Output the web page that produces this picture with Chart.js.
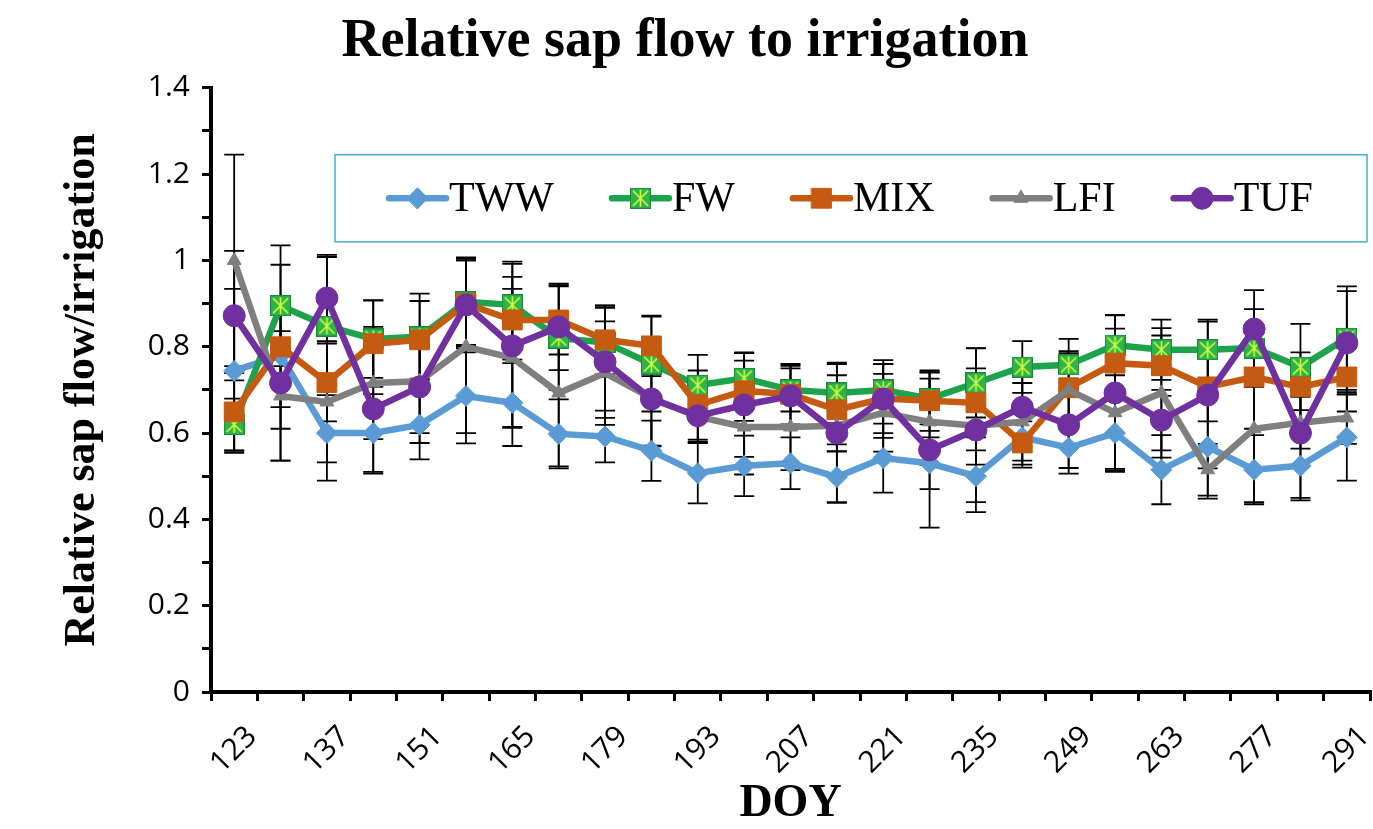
<!DOCTYPE html>
<html>
<head>
    <title>Relative sap flow to irrigation</title>
    <script src="https://cdn.jsdelivr.net/npm/chart.js"></script>
    <style>
        body { margin: 0; background: #fff; }
        canvas { display: block; }
    </style>
</head>
<body>
    <canvas id="sapChart" width="1373" height="829"></canvas>
    <script>
        // DOY categories (weekly)
        var doy = ['123', '130', '137', '144', '151', '158', '165', '172', '179', '186', '193', '200', '207',
                   '214', '221', '228', '235', '242', '249', '256', '263', '270', '277', '284', '291'];

        var seriesNames = ['TWW', 'FW', 'MIX', 'LFI', 'TUF'];

        var tww = [0.744, 0.78, 0.60, 0.60, 0.619, 0.686, 0.67, 0.598, 0.592, 0.559, 0.507, 0.524, 0.53,
                   0.498, 0.542, 0.53, 0.50, 0.59, 0.566, 0.60, 0.515, 0.568, 0.515, 0.524, 0.59];
        var fw  = [0.62, 0.895, 0.848, 0.818, 0.823, 0.904, 0.897, 0.82, 0.81, 0.76, 0.711, 0.727, 0.70,
                   0.693, 0.70, 0.68, 0.716, 0.753, 0.758, 0.804, 0.793, 0.793, 0.797, 0.753, 0.82];
        var mix = [0.649, 0.80, 0.717, 0.807, 0.816, 0.90, 0.862, 0.862, 0.816, 0.802, 0.665, 0.698, 0.69,
                   0.654, 0.68, 0.675, 0.67, 0.577, 0.705, 0.762, 0.756, 0.707, 0.73, 0.707, 0.73];
        var lfi = [1.0, 0.686, 0.672, 0.716, 0.72, 0.80, 0.774, 0.693, 0.739, 0.681, 0.638, 0.614, 0.614,
                   0.617, 0.647, 0.626, 0.617, 0.626, 0.70, 0.647, 0.693, 0.515, 0.61, 0.624, 0.635];
        var tuf = [0.872, 0.716, 0.913, 0.656, 0.707, 0.897, 0.802, 0.846, 0.765, 0.679, 0.64, 0.665, 0.686,
                   0.60, 0.679, 0.561, 0.607, 0.66, 0.619, 0.693, 0.63, 0.688, 0.841, 0.60, 0.809];

        // standard errors (+/-)
        var twwErr = [0.19, 0.12, 0.11, 0.09, 0.08, 0.11, 0.10, 0.08, 0.06, 0.07, 0.07, 0.07, 0.06,
                      0.06, 0.08, 0.06, 0.06, 0.07, 0.06, 0.09, 0.08, 0.12, 0.08, 0.08, 0.10];
        var fwErr  = [0.06, 0.14, 0.16, 0.09, 0.10, 0.10, 0.10, 0.12, 0.08, 0.11, 0.07, 0.06, 0.05,
                      0.07, 0.06, 0.06, 0.08, 0.06, 0.06, 0.07, 0.07, 0.07, 0.09, 0.10, 0.12];
        var mixErr = [0.09, 0.19, 0.09, 0.10, 0.09, 0.10, 0.10, 0.08, 0.08, 0.07, 0.08, 0.07, 0.07,
                      0.08, 0.08, 0.07, 0.08, 0.05, 0.08, 0.08, 0.07, 0.08, 0.12, 0.08, 0.08];
        var lfiErr = [0.245, 0.15, 0.14, 0.13, 0.12, 0.20, 0.16, 0.17, 0.12, 0.11, 0.06, 0.11, 0.10,
                      0.06, 0.09, 0.10, 0.09, 0.09, 0.09, 0.13, 0.15, 0.06, 0.17, 0.06, 0.06];
        var tufErr = [0.15, 0.18, 0.10, 0.15, 0.13, 0.11, 0.19, 0.10, 0.13, 0.11, 0.06, 0.12, 0.07,
                      0.16, 0.09, 0.18, 0.19, 0.07, 0.10, 0.18, 0.07, 0.17, 0.09, 0.15, 0.12];

        var yTicksShown = [0, 0.2, 0.4, 0.6, 0.8, 1, 1.2, 1.4];

        // FW marker: green square with a lime asterisk
        var fwMarker = document.createElement('canvas');
        fwMarker.width = 21; fwMarker.height = 21;
        (function() {
            var c = fwMarker.getContext('2d');
            c.fillStyle = '#2fb34a';
            c.fillRect(0, 0, 21, 21);
            c.strokeStyle = '#1a8a3a';
            c.lineWidth = 1;
            c.strokeRect(0.5, 0.5, 20, 20);
            c.strokeStyle = '#d4ff3a';
            c.lineWidth = 1.6;
            c.beginPath();
            c.moveTo(3, 3); c.lineTo(18, 18);
            c.moveTo(18, 3); c.lineTo(3, 18);
            c.moveTo(10.5, 2); c.lineTo(10.5, 19);
            c.stroke();
        })();

        var errSets = [twwErr, fwErr, mixErr, lfiErr, tufErr];

        // error bars drawn under the lines
        var errorBars = {
            id: 'errorBars',
            beforeDatasetsDraw: function(chart) {
                var ctx = chart.ctx;
                var yScale = chart.scales.y;
                ctx.save();
                ctx.strokeStyle = '#000';
                ctx.lineWidth = 1.8;
                chart.data.datasets.forEach(function(ds, i) {
                    var meta = chart.getDatasetMeta(i);
                    meta.data.forEach(function(pt, j) {
                        var v = ds.data[j], e = errSets[i][j];
                        var top = yScale.getPixelForValue(v + e);
                        var bot = yScale.getPixelForValue(v - e);
                        ctx.beginPath();
                        ctx.moveTo(pt.x, top); ctx.lineTo(pt.x, bot);
                        ctx.moveTo(pt.x - 10, top); ctx.lineTo(pt.x + 10, top);
                        ctx.moveTo(pt.x - 10, bot); ctx.lineTo(pt.x + 10, bot);
                        ctx.stroke();
                    });
                });
                ctx.restore();
            }
        };

        // boxed legend inside the plot area
        var legendBox = {
            id: 'legendBox',
            afterDatasetsDraw: function(chart) {
                var ctx = chart.ctx;
                var area = chart.chartArea;
                var x0 = area.left + 124, x1 = area.right - 3;
                var y0 = area.top + 67, y1 = y0 + 87;
                ctx.save();
                ctx.fillStyle = '#fff';
                ctx.fillRect(x0, y0, x1 - x0, y1 - y0);
                ctx.strokeStyle = '#4bacc6';
                ctx.lineWidth = 1.5;
                ctx.strokeRect(x0, y0, x1 - x0, y1 - y0);

                ctx.font = '42px "Liberation Serif"';
                var lineLen = 57, textGap = 3, itemGap = 58;
                var dsets = chart.data.datasets;
                var total = 0;
                dsets.forEach(function(ds, i) {
                    total += lineLen + textGap + ctx.measureText(ds.label).width;
                    if (i < dsets.length - 1) total += itemGap;
                });
                var x = (x0 + x1) / 2 - total / 2;
                var y = (y0 + y1) / 2;
                dsets.forEach(function(ds) {
                    ctx.strokeStyle = ds.borderColor;
                    ctx.lineWidth = ds.borderWidth;
                    ctx.lineCap = 'round';
                    ctx.beginPath();
                    ctx.moveTo(x, y); ctx.lineTo(x + lineLen, y);
                    ctx.stroke();
                    ctx.fillStyle = ds.pointBackgroundColor;
                    ctx.strokeStyle = ds.pointBorderColor;
                    ctx.lineWidth = 1;
                    Chart.helpers.drawPoint(ctx, {
                        pointStyle: ds.pointStyle,
                        radius: ds.pointRadius,
                        rotation: 0,
                        borderWidth: 1
                    }, x + lineLen / 2, y);
                    ctx.fillStyle = '#000';
                    ctx.textAlign = 'left';
                    ctx.textBaseline = 'middle';
                    ctx.fillText(ds.label, x + lineLen + textGap, y + 2);
                    x += lineLen + textGap + ctx.measureText(ds.label).width + itemGap;
                });
                ctx.restore();
            }
        };

        function series(label, data, color, style, radius, order) {
            return {
                label: label,
                data: data,
                borderColor: color,
                backgroundColor: color,
                borderWidth: 6.5,
                pointStyle: style,
                pointRadius: radius,
                pointHoverRadius: radius,
                pointBackgroundColor: color,
                pointBorderColor: color,
                pointBorderWidth: 1,
                tension: 0,
                order: order
            };
        }

        var ctx = document.getElementById('sapChart').getContext('2d');
        var sapChart = new Chart(ctx, {
            type: 'line',
            data: {
                labels: doy,
                datasets: [
                    series(seriesNames[0], tww, '#5b9bd5', 'rectRot', 10.5, 5),
                    series(seriesNames[1], fw, '#1ea34d', fwMarker, 10, 4),
                    series(seriesNames[2], mix, '#c55a11', 'rect', 14, 3),
                    series(seriesNames[3], lfi, '#7f7f7f', 'triangle', 8, 2),
                    series(seriesNames[4], tuf, '#7030a0', 'circle', 11, 1)
                ]
            },
            options: {
                responsive: false,
                animation: false,
                layout: {
                    autoPadding: false,
                    padding: { left: 0, right: 3, top: 0, bottom: 0 }
                },
                scales: {
                    x: {
                        type: 'category',
                        offset: true,
                        grid: {
                            offset: true,
                            drawOnChartArea: false,
                            drawTicks: true,
                            tickLength: 9,
                            color: '#000',
                            lineWidth: 3
                        },
                        border: { display: true, color: '#000', width: 4 },
                        ticks: {
                            autoSkip: false,
                            maxRotation: 45,
                            minRotation: 45,
                            padding: 18,
                            labelOffset: 18,
                            color: '#000',
                            font: { family: 'Open Sans', size: 30 },
                            callback: function(val, idx) {
                                return idx % 2 === 0 ? this.getLabelForValue(val) : '';
                            }
                        },
                        title: {
                            display: true,
                            text: 'DOY',
                            color: '#000',
                            font: { family: 'Liberation Serif', size: 46, weight: 'bold', lineHeight: 1 },
                            padding: { top: 0, bottom: 2 }
                        },
                        afterFit: function(scale) {
                            scale.height = 137;
                            scale.paddingLeft = 0;
                            scale.paddingRight = 0;
                        }
                    },
                    y: {
                        min: 0,
                        max: 1.4,
                        grid: {
                            drawOnChartArea: false,
                            drawTicks: true,
                            tickLength: 9,
                            color: '#000',
                            lineWidth: 3
                        },
                        border: { display: true, color: '#000', width: 4 },
                        ticks: {
                            stepSize: 0.1,
                            padding: 12,
                            color: '#000',
                            font: { family: 'Open Sans', size: 30 },
                            callback: function(val) {
                                var r = Math.round(val * 10) / 10;
                                return yTicksShown.indexOf(r) >= 0 ? String(r) : '';
                            }
                        },
                        title: {
                            display: true,
                            text: 'Relative sap flow/irrigation',
                            color: '#000',
                            font: { family: 'Liberation Serif', size: 44, weight: 'bold', lineHeight: 1.2 },
                            padding: { top: 56, bottom: 0 }
                        },
                        afterFit: function(scale) { scale.width = 211; }
                    }
                },
                plugins: {
                    legend: { display: false },
                    tooltip: { enabled: false },
                    title: {
                        display: true,
                        text: 'Relative sap flow to irrigation',
                        color: '#000',
                        font: { family: 'Liberation Serif', size: 54, weight: 'bold', lineHeight: 1.2 },
                        padding: { top: 10, bottom: 13 }
                    }
                }
            },
            plugins: [errorBars, legendBox]
        });
    </script>
</body>
</html>
